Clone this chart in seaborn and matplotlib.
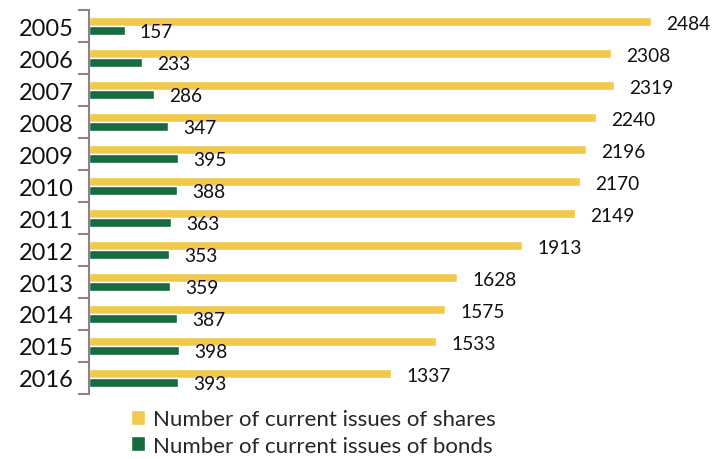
import numpy as np
import pandas as pd
import matplotlib
matplotlib.use("Agg")
import matplotlib.pyplot as plt
import seaborn as sns

years = ["2005", "2006", "2007", "2008", "2009", "2010",
         "2011", "2012", "2013", "2014", "2015", "2016"]
shares = [2484, 2308, 2319, 2240, 2196, 2170, 2149, 1913, 1628, 1575, 1533, 1337]
bonds = [157, 233, 286, 347, 395, 388, 363, 353, 359, 387, 398, 393]
series = ["Number of current issues of shares", "Number of current issues of bonds"]
colors = ["#F2C94C", "#176B3F"]

df = pd.DataFrame({
    "Year": years * 2,
    "Value": shares + bonds,
    "Series": [series[0]] * len(years) + [series[1]] * len(years),
})

sns.set_theme(style="white")
plt.rcParams["font.family"] = ["Lato", "DejaVu Sans"]

fig = plt.figure(figsize=(7.13, 4.6), dpi=100)
ax = fig.add_axes([89 / 713, 1 - 395 / 460, 1 - 89 / 713, (395 - 11) / 460])

sns.barplot(data=df, y="Year", x="Value", hue="Series", order=years,
            hue_order=series, palette=colors, orient="h", width=0.56,
            saturation=1, ax=ax)

for cont in ax.containers:
    labels = ax.bar_label(cont, fmt="%d", padding=11, fontsize=13.8, color="#111111")
    for t in labels:
        t.set_va("center_baseline")

ax.set_xlim(0, 624 / (562 / 2484))
ax.set_ylim(len(years) - 0.5, -0.5)
ax.set_xlabel("")
ax.set_ylabel("")
ax.set_xticks([])

ax.set_yticks(np.arange(len(years)))
ax.set_yticklabels(years, fontsize=17)
ax.set_yticks(np.arange(len(years) + 1) - 0.5, minor=True)
ax.tick_params(axis="y", which="major", length=0, pad=11, colors="#111111")
ax.tick_params(axis="y", which="minor", length=8, width=1.5, color="#868686", left=True)

for s in ["top", "right", "bottom"]:
    ax.spines[s].set_visible(False)
ax.spines["left"].set_color("#868686")
ax.spines["left"].set_linewidth(1.5)

ax.legend(loc="upper left", bbox_to_anchor=(131 / 713, 1 - 410 / 460),
          bbox_transform=fig.transFigure, frameon=False, fontsize=16,
          handlelength=0.65, handleheight=0.65, handletextpad=0.35,
          labelspacing=0.3, borderaxespad=0, borderpad=0)

plt.savefig("out.png", dpi=100)
plt.close()
